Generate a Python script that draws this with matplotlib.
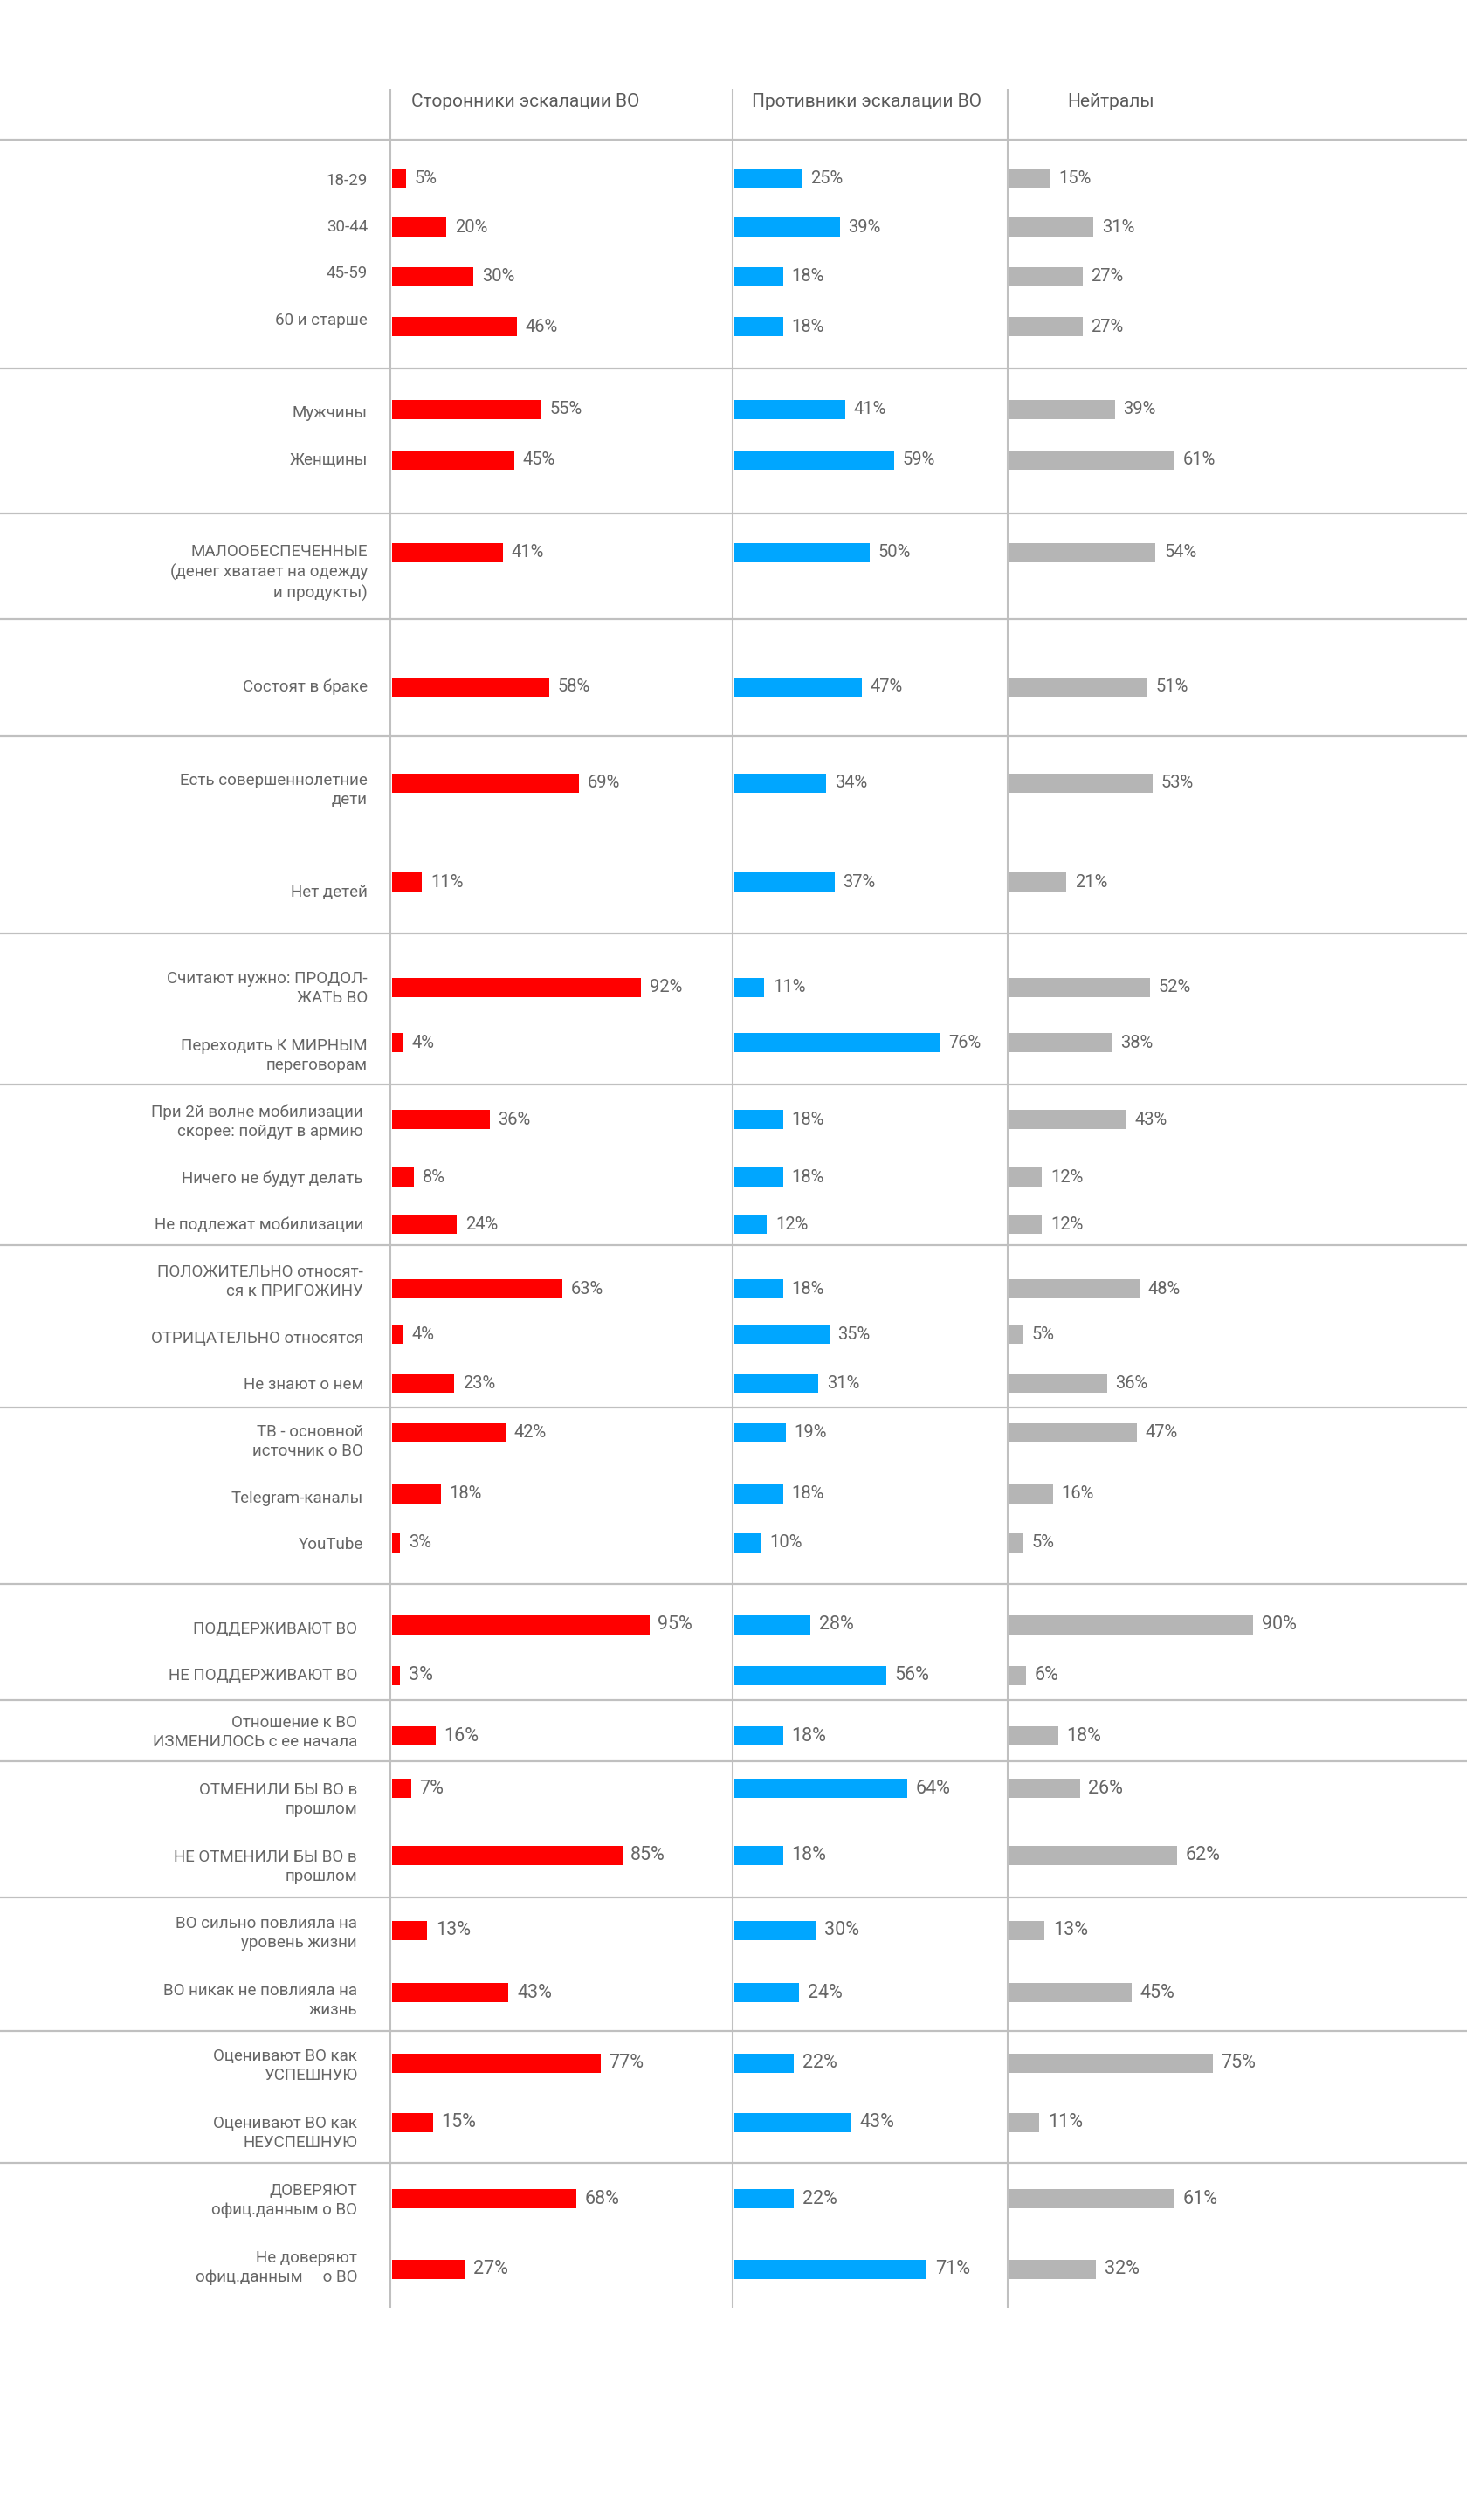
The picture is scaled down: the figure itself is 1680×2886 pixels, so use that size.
import matplotlib
matplotlib.use("Agg")
import matplotlib.pyplot as plt

plt.rcParams['font.family'] = ['Roboto', 'DejaVu Sans']

# --- data -------------------------------------------------------------
groups = ["Сторонники эскалации ВО", "Противники эскалации ВО", "Нейтралы"]

labels = [
    "18-29", "30-44", "45-59", "60 и старше",
    "Мужчины", "Женщины",
    "МАЛООБЕСПЕЧЕННЫЕ\n(денег хватает на одежду\nи продукты)",
    "Состоят в браке",
    "Есть совершеннолетние\nдети", "Нет детей",
    "Считают нужно: ПРОДОЛ-\nЖАТЬ ВО", "Переходить К МИРНЫМ\nпереговорам",
    "При 2й волне мобилизации\nскорее: пойдут в армию",
    "Ничего не будут делать", "Не подлежат мобилизации",
    "ПОЛОЖИТЕЛЬНО относят-\nся к ПРИГОЖИНУ", "ОТРИЦАТЕЛЬНО относятся",
    "Не знают о нем",
    "ТВ - основной\nисточник о ВО", "Telegram-каналы", "YouTube",
    "ПОДДЕРЖИВАЮТ ВО", "НЕ ПОДДЕРЖИВАЮТ ВО",
    "Отношение к ВО\nИЗМЕНИЛОСЬ с ее начала",
    "ОТМЕНИЛИ БЫ ВО в\nпрошлом", "НЕ ОТМЕНИЛИ БЫ ВО в\nпрошлом",
    "ВО сильно повлияла на\nуровень жизни", "ВО никак не повлияла на\nжизнь",
    "Оценивают ВО как\nУСПЕШНУЮ", "Оценивают ВО как\nНЕУСПЕШНУЮ",
    "ДОВЕРЯЮТ\nофиц.данным о ВО", "Не доверяют\nофиц.данным     о ВО",
]

hawks = [5, 20, 30, 46, 55, 45, 41, 58, 69, 11, 92, 4, 36, 8, 24, 63, 4, 23,
         42, 18, 3, 95, 3, 16, 7, 85, 13, 43, 77, 15, 68, 27]
doves = [25, 39, 18, 18, 41, 59, 50, 47, 34, 37, 11, 76, 18, 18, 12, 18, 35, 31,
         19, 18, 10, 28, 56, 18, 64, 18, 30, 24, 22, 43, 22, 71]
neutral = [15, 31, 27, 27, 39, 61, 54, 51, 53, 21, 52, 38, 43, 12, 12, 48, 5, 36,
           47, 16, 5, 90, 6, 18, 26, 62, 13, 45, 75, 11, 61, 32]

# --- layout (pixels of the 1680x2886 canvas) ---------------------------
W, H = 1680, 2886
bar_y = [204, 260, 317, 374, 469, 527, 633, 787, 897, 1010, 1131, 1194,
         1282, 1348, 1402, 1476, 1528, 1584, 1641, 1711, 1767, 1861, 1919,
         1988, 2048, 2125, 2211, 2282, 2363, 2431, 2518, 2599]
label_y = [207, 260, 313, 367, 473, 527, 656, 787, 905, 1022, 1132, 1209,
           1285, 1350, 1403, 1468, 1533, 1586, 1651, 1716, 1769, 1866, 1919,
           1984, 2061, 2138, 2214, 2291, 2366, 2443, 2520, 2597]
separators = [160, 422, 588, 709, 843, 1069, 1242, 1426, 1612, 1814, 1947,
              2017, 2173, 2326, 2477]
col_x = [447, 839, 1154]
col_end = [839, 1154, W]
head_x = [471, 861, 1222]
colors = ["#FF0000", "#00A6FF", "#B5B5B5"]
px_per_pct = 3.1
text_c = "#666666"
line_c = "#C0C0C0"

fig = plt.figure(figsize=(W / 100, H / 100), dpi=100)
fig.patch.set_facecolor("white")

ax0 = fig.add_axes([0, 0, 1, 1])
ax0.set_xlim(0, W)
ax0.set_ylim(H, 0)
ax0.axis("off")

for y in separators:
    ax0.plot([0, W], [y, y], color=line_c, lw=1.6, solid_capstyle="butt")
for x in col_x:
    ax0.plot([x, x], [102, 2643], color=line_c, lw=1.5, solid_capstyle="butt")

for name, x in zip(groups, head_x):
    ax0.text(x, 116, name, ha="left", va="center", fontsize=15, color="#5a5a5a")

for i, (lab, y) in enumerate(zip(labels, label_y)):
    rx = 421 if i < 12 else (416 if i < 21 else 409)
    ax0.text(rx, y, lab, ha="right", va="center", multialignment="right",
             fontsize=13.5, color=text_c, linespacing=1.3)

for k, vals in enumerate([hawks, doves, neutral]):
    x0 = col_x[k] + 2
    w = col_end[k] - x0
    ax = fig.add_axes([x0 / W, 0, w / W, 1])
    ax.set_xlim(0, w / px_per_pct)
    ax.set_ylim(H, 0)
    ax.axis("off")
    ax.patch.set_alpha(0)
    ax.barh(bar_y, vals, height=22, left=0, color=colors[k])
    for i, (v, y) in enumerate(zip(vals, bar_y)):
        ax.annotate(f"{v}%", xy=(v, y), xytext=(7, 0), textcoords="offset points",
                    ha="left", va="center", color=text_c,
                    fontsize=14.5 if i < 21 else 15.5)

fig.savefig("out.png", dpi=100, facecolor="white")
